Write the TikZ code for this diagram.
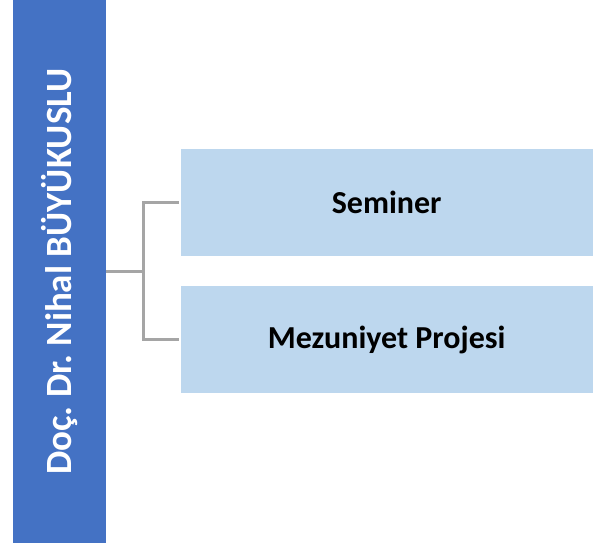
\documentclass[tikz,border=0pt]{standalone}
\usepackage{fontspec}
\setmainfont{Carlito}
\frenchspacing
\definecolor{barblue}{HTML}{4472C4}
\definecolor{boxblue}{HTML}{BDD7EE}
\definecolor{linegray}{HTML}{A5A5A5}
\tikzset{
  barbox/.style={fill=barblue, draw=none, minimum width=93pt, minimum height=543pt, inner sep=0pt, anchor=north west},
  itembox/.style={fill=boxblue, draw=none, minimum width=412pt, minimum height=107pt, inner sep=0pt, anchor=north west, font=\fontsize{32}{36}\selectfont\bfseries},
  conn/.style={draw=linegray, line width=2.5pt}
}
\begin{document}
\begin{tikzpicture}[x=1pt,y=-1pt]
\useasboundingbox (0,0) rectangle (599,546);
\node[barbox] (bar) at (13,0) {};
\node[rotate=90, text=white, font=\fontsize{37}{40}\selectfont\bfseries, inner sep=0pt] (name) at (bar.center) {Doç. Dr. Nihal BÜYÜKUSLU};
\node[itembox] (s) at (180.5,149) {Seminer};
\node[itembox] (m) at (180.5,286) {Mezuniyet Projesi};
\draw[conn] (bar.east) -- ++(37,0) coordinate (j);
\draw[conn] (j) |- ([xshift=-2pt]s.west);
\draw[conn] (j) |- ([xshift=-2pt]m.west);
\end{tikzpicture}
\end{document}
